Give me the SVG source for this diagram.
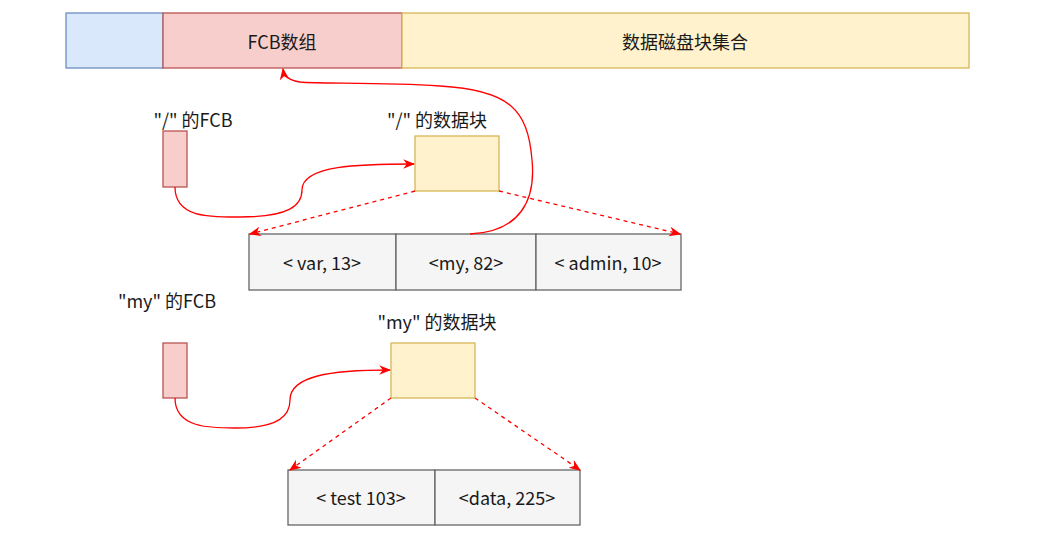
<svg xmlns="http://www.w3.org/2000/svg" width="1038" height="538" viewBox="0 0 1038 538">
<style>
text{font-family:"Noto Sans CJK SC","Noto Sans",sans-serif;font-size:18px;fill:#1a1a1a;text-anchor:middle;dominant-baseline:central}
.blue{fill:#dae8fc;stroke:#6c8ebf;stroke-width:1.3}
.pink{fill:#f8cecc;stroke:#b85450;stroke-width:1.3}
.yel{fill:#fff2cc;stroke:#d6b656;stroke-width:1.3}
.cell{fill:#f5f5f5;stroke:#666;stroke-width:1.3}
.c{fill:none;stroke:#ff0000;stroke-width:1.3}
.d{fill:none;stroke:#ff0000;stroke-width:1.3;stroke-dasharray:4 4}
</style>
<defs>
<marker id="ar" viewBox="0 0 10 10" refX="9" refY="5" markerWidth="12" markerHeight="12" markerUnits="userSpaceOnUse" orient="auto">
<path d="M0,1 L10,5 L0,9 L3,5 Z" fill="#ff0000"/>
</marker>
</defs>
<g id="bar">
<rect class="blue" x="66" y="13" width="97" height="55"/>
<rect class="pink" x="163" y="13" width="239" height="55"/>
<rect class="yel" x="402" y="13" width="567" height="55"/>
<text x="282" y="41">FCB数组</text>
<text x="685" y="41">数据磁盘块集合</text>
</g>
<g id="fcb1">
<rect class="pink" x="163" y="131" width="24" height="56"/>
<text x="193" y="119">"/" 的FCB</text>
</g>
<g id="blk1">
<rect class="yel" x="415" y="136" width="84" height="55"/>
<text x="437" y="119">"/" 的数据块</text>
</g>
<g id="row1">
<rect class="cell" x="249" y="234" width="147" height="56"/>
<rect class="cell" x="396" y="234" width="140" height="56"/>
<rect class="cell" x="536" y="234" width="145" height="56"/>
<text x="322" y="262">&lt; var, 13&gt;</text>
<text x="466" y="262">&lt;my, 82&gt;</text>
<text x="608" y="262">&lt; admin, 10&gt;</text>
</g>
<g id="fcb2">
<rect class="pink" x="163" y="343" width="24" height="55"/>
<text x="167" y="300">"my" 的FCB</text>
</g>
<g id="blk2">
<rect class="yel" x="391" y="343" width="84" height="55"/>
<text x="437" y="321">"my" 的数据块</text>
</g>
<g id="row2">
<rect class="cell" x="288" y="470" width="147" height="55"/>
<rect class="cell" x="435" y="470" width="145" height="55"/>
<text x="361" y="497">&lt; test 103&gt;</text>
<text x="507" y="497">&lt;data, 225&gt;</text>
</g>
<g id="connectors">
<path class="c" d="M175,187 C175,218 210,217 240,217 C290,217 302,205 302,190 C302,165 360,164 414,164" marker-end="url(#ar)"/>
<path class="c" d="M470,234 C520,232 536,200 532,160 C528,110 510,90 440,86 C380,82 320,84 300,82 C288,80 284,76 283,69" marker-end="url(#ar)"/>
<path class="d" d="M415,191 L250,234" marker-end="url(#ar)"/>
<path class="d" d="M499,191 L680,234" marker-end="url(#ar)"/>
<path class="c" d="M175,398 C175,428 210,428 235,428 C280,428 290,415 290,400 C290,376 330,370 390,370" marker-end="url(#ar)"/>
<path class="d" d="M391,398 L290,470" marker-end="url(#ar)"/>
<path class="d" d="M475,398 L580,470" marker-end="url(#ar)"/>
</g>
</svg>
